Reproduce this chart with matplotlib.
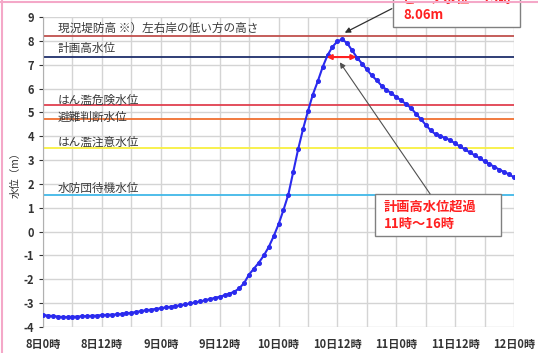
import numpy as np
import matplotlib
matplotlib.use("Agg")
import matplotlib.pyplot as plt
from matplotlib.patches import Rectangle

plt.rcParams['font.family'] = ['Noto Sans CJK JP', 'DejaVu Sans']
plt.rcParams['axes.unicode_minus'] = False

# hourly water level, 8日0時 .. 12日0時
hours = np.arange(97)
level = [
    -3.50, -3.52, -3.54, -3.56, -3.58, -3.58, -3.57, -3.56, -3.55, -3.54,
    -3.53, -3.52, -3.50, -3.49, -3.48, -3.47, -3.45, -3.43, -3.40, -3.37,
    -3.33, -3.30, -3.27, -3.24, -3.21, -3.18, -3.15, -3.12, -3.09, -3.05,
    -3.01, -2.97, -2.93, -2.88, -2.83, -2.78, -2.73, -2.67, -2.60, -2.52,
    -2.38, -2.15, -1.80, -1.55, -1.30, -1.00, -0.65, -0.20, 0.30, 0.90,
    1.55, 2.50, 3.45, 4.30, 5.05, 5.75, 6.30, 6.90, 7.40, 7.75,
    7.98, 8.06, 7.90, 7.60, 7.30, 7.05, 6.80, 6.55, 6.35, 6.12,
    5.95, 5.80, 5.65, 5.50, 5.35, 5.18, 4.95, 4.72, 4.48, 4.25,
    4.08, 4.00, 3.93, 3.83, 3.70, 3.57, 3.45, 3.32, 3.20, 3.08,
    2.95, 2.83, 2.72, 2.60, 2.50, 2.40, 2.28,
]

tick_hours = [0, 12, 24, 36, 48, 60, 72, 84, 96]
tick_labels = ['8日0時', '8日12時', '9日0時', '9日12時', '10日0時',
               '10日12時', '11日0時', '11日12時', '12日0時']

# reference levels
ref_names = ['現況堤防高 ※）左右岸の低い方の高さ', '計画高水位', 'はん濫危険水位',
             '避難判断水位', 'はん濫注意水位', '水防団待機水位']
ref_values = [8.2, 7.32, 5.32, 4.72, 3.5, 1.52]
ref_colors = ['#c0504d', '#1f2f6b', '#e0404f', '#f07030', '#f8f040', '#40b8e8']
label_offsets = [0.34, 0.34, 0.18, 0.09, 0.26, 0.29]

peak_hour, peak_value = 61, 8.06
over_start, over_end = 57.8, 63.9

fig = plt.figure(figsize=(5.38, 3.53), dpi=100)
ax = fig.add_axes([43 / 538, 1 - 327 / 353, 471 / 538, 310 / 353])

ax.set_xlim(0, 96)
ax.set_ylim(-4, 9)
ax.set_xticks(tick_hours)
ax.set_xticklabels(tick_labels)
ax.set_xticks(np.arange(0, 97, 6), minor=True)
ax.set_yticks(np.arange(-4, 10))
ax.grid(True, which='both', color='#d4d4d4', lw=1)
ax.set_axisbelow(True)
ax.tick_params(axis='x', which='both', length=0, labelsize=8, colors='#333333', pad=8)
ax.tick_params(axis='y', length=3, labelsize=8, colors='#333333', width=0.8)
for lab in ax.get_xticklabels() + ax.get_yticklabels():
    lab.set_fontweight('bold')
for s in ['top', 'right', 'bottom']:
    ax.spines[s].set_visible(False)
ax.spines['left'].set_color('#b0b0b0')
ax.set_ylabel('水位（m）', fontsize=7.5, color='#333333', labelpad=2)

for name, v, c, off in zip(ref_names, ref_values, ref_colors, label_offsets):
    ax.axhline(v, color=c, lw=1.3, zorder=2)
    ax.text(3, v + off, name, fontsize=8.4, color='#3a3a3a', va='center', ha='left',
            zorder=3)

ax.plot(hours, level, color='#2a2aee', lw=1.5, marker='o', ms=2.6, zorder=4)

# exceedance arrow
ax.annotate('', xy=(over_start, 7.32), xytext=(over_end, 7.32),
            arrowprops=dict(arrowstyle='<|-|>', color='#ff2020', lw=1.5,
                            mutation_scale=7, shrinkA=0, shrinkB=0), zorder=5)

# peak callout
ax.add_patch(Rectangle((71.3, 8.58), 25.9, 2.0, facecolor='white',
                       edgecolor='#808080', lw=1, clip_on=False, zorder=6))
ax.text(73.4, 9.42, 'ピーク水位　13時\n8.06m', color='#ff2020', fontsize=9.5,
        fontweight='bold', va='center', ha='left', linespacing=1.25,
        clip_on=False, zorder=7)
ax.annotate('', xy=(peak_hour + 0.5, peak_value + 0.28), xytext=(71.1, 9.35),
            arrowprops=dict(arrowstyle='-|>', color='#303030', lw=0.9,
                            mutation_scale=8, shrinkA=0, shrinkB=0),
            annotation_clip=False, zorder=6)

# exceedance callout
ax.add_patch(Rectangle((67.7, -0.18), 25.7, 1.76, facecolor='white',
                       edgecolor='#808080', lw=1, zorder=6))
ax.text(69.5, 0.69, '計画高水位超過\n11時〜16時', color='#ff2020', fontsize=9.5,
        fontweight='bold', va='center', ha='left', linespacing=1.25, zorder=7)
ax.annotate('', xy=(60.5, 7.1), xytext=(78.9, 1.58),
            arrowprops=dict(arrowstyle='-|>', color='#505050', lw=0.8,
                            mutation_scale=8, shrinkA=0, shrinkB=0), zorder=6)

# slide border
fig.add_artist(plt.Line2D([0, 1], [1 - 2 / 353, 1 - 2 / 353], color='#f4a8c8', lw=1.5))
fig.add_artist(plt.Line2D([1.5 / 538, 1.5 / 538], [0, 1], color='#f4a8c8', lw=1.5))

fig.savefig('out.png', dpi=100)
